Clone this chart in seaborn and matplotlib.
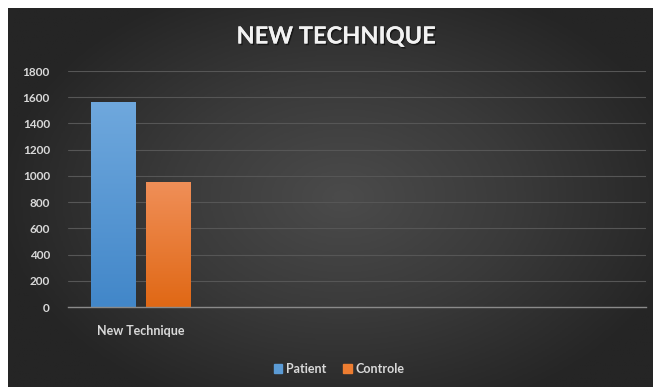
import numpy as np
import pandas as pd
import matplotlib
matplotlib.use("Agg")
import matplotlib.pyplot as plt
import matplotlib.patheffects as pe
from matplotlib.colors import LinearSegmentedColormap
import seaborn as sns

# ---- data ----
categories = ["New Technique"]
series = ["Patient", "Controle"]
patient_values = [1565]
controle_values = [957]
y_ticks = [0, 200, 400, 600, 800, 1000, 1200, 1400, 1600, 1800]
title = "NEW TECHNIQUE"

colors = {"Patient": "#5b9bd5", "Controle": "#ed7d31"}
grad = {"Patient": ("#6fa8dd", "#4287c9"), "Controle": ("#f08f58", "#e06815")}

df = pd.DataFrame({
    "category": categories * 2,
    "series": ["Patient"] * len(categories) + ["Controle"] * len(categories),
    "value": patient_values + controle_values,
})

sns.set_theme(style="dark")
plt.rcParams["font.family"] = ["Lato", "DejaVu Sans"]

W, H = 653, 387
fig = plt.figure(figsize=(W / 100, H / 100), dpi=100)
fig.patch.set_facecolor("white")

# background with radial gradient
bg = fig.add_axes([8 / W, 0, (W - 8) / W, (H - 8) / H])
bg.set_axis_off()
ny, nx = 200, 340
yy, xx = np.mgrid[0:1:ny * 1j, 0:1:nx * 1j]
r = np.sqrt(((xx - 0.52) / 0.75) ** 2 + ((yy - 0.5) / 0.85) ** 2)
r = np.clip(r / 0.72, 0, 1)
bgcmap = LinearSegmentedColormap.from_list("bg", ["#4b4b4b", "#3a3a3a", "#252525"])
bg.imshow(r, cmap=bgcmap, aspect="auto", extent=[0, 1, 0, 1], vmin=0, vmax=1)
bg.set_xlim(0, 1)
bg.set_ylim(0, 1)

# main axes
x0, x1, ytop, ybot = 68, 646, 71, 307
ax = fig.add_axes([x0 / W, (H - ybot) / H, (x1 - x0) / W, (ybot - ytop) / H])
ax.set_facecolor("none")

sns.barplot(data=df, x="category", y="value", hue="series", hue_order=series,
            palette=colors, width=0.76, gap=0.19, ax=ax, legend=True,
            saturation=1, edgecolor="none", zorder=3)

ax.set_xlim(-0.5, 3.46)
ax.set_ylim(0, 1800)
ax.set_yticks(y_ticks)
ax.set_yticklabels([str(v) for v in y_ticks], fontsize=8.5, fontweight="bold", color="#d9d9d9")
ax.tick_params(axis="x", labelsize=9, labelcolor="#d9d9d9", length=0, pad=13)
for lab in ax.get_xticklabels():
    lab.set_fontweight("bold")
ax.tick_params(axis="y", length=0, pad=13)
ax.set_xlabel("")
ax.set_ylabel("")
ax.grid(axis="y", color="#565656", linewidth=0.8, zorder=0)
ax.grid(axis="x", visible=False)
for s in ["top", "right", "left"]:
    ax.spines[s].set_visible(False)
ax.spines["bottom"].set_color("#8a8a8a")
ax.spines["bottom"].set_linewidth(1.0)
ax.spines["bottom"].set_zorder(5)

# gradient fill on bars
for container, name in zip(ax.containers, series):
    cm = LinearSegmentedColormap.from_list(name, [grad[name][1], grad[name][0]])
    for patch in container.patches:
        bx, by = patch.get_x(), patch.get_y()
        bw, bh = patch.get_width(), patch.get_height()
        g = np.linspace(0, 1, 100).reshape(-1, 1)
        im = ax.imshow(g, cmap=cm, origin="lower", aspect="auto",
                       extent=[bx, bx + bw, by, by + bh], zorder=4)
        im.set_clip_path(patch)
ax.set_xlim(-0.5, 3.46)
ax.set_ylim(0, 1800)

# legend
leg = ax.get_legend()
if leg is not None:
    leg.remove()
handles = [plt.Rectangle((0, 0), 1, 1, color=colors[s]) for s in series]
fl = fig.legend(handles, series, loc="center", bbox_to_anchor=(339 / W, 1 - 369 / H),
                ncol=2, frameon=False, handlelength=0.7, handleheight=0.7,
                handletextpad=0.3, columnspacing=1.3, prop={"size": 9, "weight": "bold"})
for t in fl.get_texts():
    t.set_color("#d9d9d9")

# title
fig.text(336 / W, 1 - 36 / H, title, ha="center", va="center", fontsize=17,
         fontweight="bold", color="#f2f2f2",
         path_effects=[pe.withSimplePatchShadow(offset=(1, -1.2), shadow_rgbFace="black", alpha=0.5), pe.Normal()])

fig.savefig("out.png", dpi=100, facecolor=fig.get_facecolor())
